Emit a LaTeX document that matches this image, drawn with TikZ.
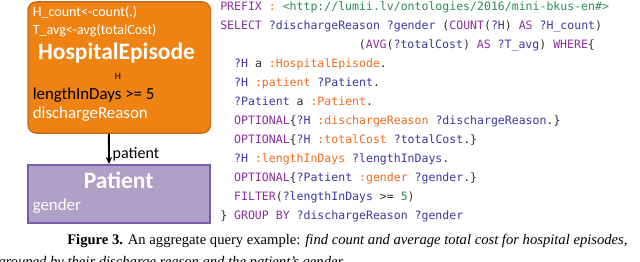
\documentclass[tikz,border=0pt]{standalone}
\usepackage{fontspec}
\setmainfont{Liberation Serif}
\setmonofont{DejaVu Sans Mono}
\newfontfamily\carlito{Carlito}
\usetikzlibrary{arrows.meta, positioning, calc}

\definecolor{epifill}{RGB}{238,131,20}
\definecolor{epiedge}{RGB}{200,106,30}
\definecolor{patfill}{RGB}{175,160,200}
\definecolor{patedge}{RGB}{122,92,170}
\definecolor{kwcol}{RGB}{140,45,160}
\definecolor{varcol}{RGB}{60,55,160}
\definecolor{iricol}{RGB}{242,107,29}
\definecolor{urlcol}{RGB}{46,139,87}
\definecolor{codecol}{RGB}{45,45,45}

\newcommand{\qkw}[1]{\textcolor{kwcol}{#1}}
\newcommand{\qvar}[1]{\textcolor{varcol}{#1}}
\newcommand{\qiri}[1]{\textcolor{iricol}{#1}}
\newcommand{\qurl}[1]{\textcolor{urlcol}{#1}}

\tikzset{
    classbox/.style={
        draw,
        line width=1pt,
        inner sep=0pt
    },
    boxtext/.style={
        inner sep=0pt,
        anchor=base west,
        text=white,
        font=\carlito\fontsize{12}{14}\selectfont
    },
    smalltext/.style={boxtext, font=\carlito\fontsize{10}{12}\selectfont},
    titletext/.style={
        inner sep=0pt,
        anchor=base,
        text=white,
        font=\carlito\bfseries\fontsize{16.7}{19}\selectfont
    },
    codeline/.style={
        inner sep=0pt,
        anchor=base west,
        text=codecol,
        font=\ttfamily\fontsize{8.2}{10}\selectfont
    },
    line/.style={-{Stealth[length=5pt, width=4.5pt]}, line width=1.3pt},
    caption/.style={
        inner sep=0pt,
        anchor=base west,
        font=\fontsize{10.4}{13}\selectfont
    }
}

\begin{document}
\begin{tikzpicture}[x=0.025cm, y=-0.025cm]
\path[use as bounding box, clip] (0,0) rectangle (640,262);

% classes
\node[classbox, draw=epiedge, fill=epifill, rounded corners=6pt,
      minimum width=4.56cm, minimum height=3.28cm] (hosp) at (119.25,67.5) {};
\node[classbox, draw=patedge, fill=patfill, line width=1.4pt,
      minimum width=4.55cm, minimum height=1.45cm] (pat) at (119,194) {};

\node[smalltext] (hcount) at (32.5,17) {H\_count<-count(.)};
\node[smalltext] (tavg) at (32.5,35) {T\_avg<-avg(totalCost)};
\node[titletext] (hname) at (116.5,60) {HospitalEpisode};
\node[inner sep=0pt, anchor=base, font=\carlito\fontsize{7}{8}\selectfont] (halias) at (118,80) {H};
\node[boxtext, text=black] (hfilter) at (32.5,100) {lengthInDays >= 5};
\node[boxtext] (hgroup) at (32.5,119) {dischargeReason};

\node[titletext] (pname) at (118.7,189) {Patient};
\node[boxtext] (pgroup) at (32.5,211) {gender};

\draw[line] ([xshift=-0.26cm]hosp.south) -- ([xshift=-0.25cm]pat.north)
    node[midway, right=2pt, yshift=-4pt, inner sep=0pt, font=\carlito\fontsize{11.4}{13}\selectfont] (plabel) {patient};

% query
\node[codeline] (q1) at (220,10.5) {\qkw{PREFIX} \qiri{:} \qurl{<http://lumii.lv/ontologies/2016/mini-bkus-en\#>}};
\node[codeline] (q2) at (220,29.5) {\qkw{SELECT} \qvar{?dischargeReason} \qvar{?gender} (\qkw{COUNT}(\qvar{?H}) \qkw{AS} \qvar{?H\_count})};
\node[codeline] (q3) at (358.6,48.5) {(\qkw{AVG}(\qvar{?totalCost}) \qkw{AS} \qvar{?T\_avg}) \qkw{WHERE}\{};
\node[codeline] (q4) at (233.9,67.5) {\qvar{?H} a \qiri{:HospitalEpisode}.};
\node[codeline] (q5) at (233.9,86.5) {\qvar{?H} \qiri{:patient} \qvar{?Patient}.};
\node[codeline] (q6) at (233.9,105.5) {\qvar{?Patient} a \qiri{:Patient}.};
\node[codeline] (q7) at (233.9,124.5) {\qkw{OPTIONAL}\{\qvar{?H} \qiri{:dischargeReason} \qvar{?dischargeReason}.\}};
\node[codeline] (q8) at (233.9,143.5) {\qkw{OPTIONAL}\{\qvar{?H} \qiri{:totalCost} \qvar{?totalCost}.\}};
\node[codeline] (q9) at (233.9,162.5) {\qvar{?H} \qiri{:lengthInDays} \qvar{?lengthInDays}.};
\node[codeline] (q10) at (233.9,181.5) {\qkw{OPTIONAL}\{\qvar{?Patient} \qiri{:gender} \qvar{?gender}.\}};
\node[codeline] (q11) at (233.9,200.5) {\qkw{FILTER}(\qvar{?lengthInDays} >= \qurl{5})};
\node[codeline] (q12) at (220,219.5) {\} \qkw{GROUP BY} \qvar{?dischargeReason} \qvar{?gender}};

% caption
\node[caption] (cap1) at (67,245) {\textbf{Figure 3.} An aggregate query example: \textit{find count and average total cost for hospital episodes,}};
\node[caption] (cap2) at (-2,267) {\textit{grouped by their discharge reason and the patient's gender.}};
\end{tikzpicture}
\end{document}
